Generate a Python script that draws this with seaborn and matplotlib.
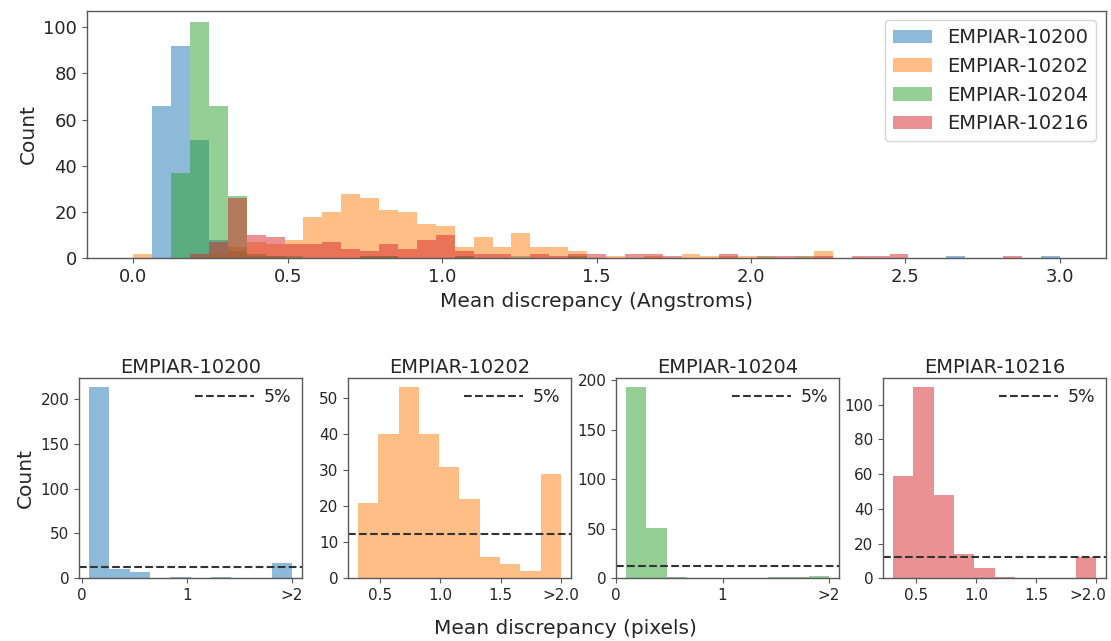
import matplotlib
matplotlib.use("Agg")
import matplotlib.pyplot as plt
import matplotlib.patches as mpatches
import matplotlib.transforms as mtransforms
from matplotlib.ticker import MultipleLocator
import numpy as np
import pandas as pd
import seaborn as sns

# Datasets and colours
NAMES = ["EMPIAR-10200", "EMPIAR-10202", "EMPIAR-10204", "EMPIAR-10216"]
colors = ["tab:blue", "tab:orange", "tab:green", "tab:red"]

# Top histogram: 49 shared bins from 0 to 3.0 Angstroms, counts read per bin
TOP_RANGE = (0.0, 3.0)
top_10200 = [0, 66, 92, 51, 8, 3, 1, 1, 0, 0, 0, 0, 1, 1, 0, 0, 0, 1, 0, 0,
             1, 0, 0, 0, 0, 0, 0, 0, 0, 0, 0, 0, 0, 1, 0, 1, 0, 0, 0, 0,
             0, 0, 0, 1, 0, 0, 0, 0, 1]
top_10202 = [2, 0, 0, 0, 2, 5, 7, 6, 8, 18, 20, 28, 26, 21, 20, 15, 14, 5, 9, 5,
             11, 5, 5, 3, 0, 1, 0, 1, 0, 2, 1, 1, 1, 1, 0, 1, 3, 0, 0, 0,
             0, 0, 0, 0, 0, 0, 0, 0, 0]
top_10204 = [0, 0, 37, 102, 66, 27, 2, 1, 1, 0, 0, 0, 1, 1, 0, 0, 0, 1, 0, 0,
             0, 0, 0, 1, 0, 0, 0, 0, 0, 0, 0, 0, 0, 0, 0, 0, 0, 0, 0, 0,
             0, 0, 0, 0, 0, 0, 0, 0, 0]
top_10216 = [0, 0, 0, 2, 7, 26, 10, 9, 6, 6, 7, 4, 3, 6, 4, 8, 10, 3, 2, 2,
             0, 2, 1, 2, 2, 0, 2, 2, 1, 0, 0, 2, 0, 0, 1, 0, 1, 0, 1, 1,
             2, 0, 0, 0, 0, 0, 1, 0, 0]
top_counts = [top_10200, top_10202, top_10204, top_10216]

# Bottom histograms (pixels): 10 bins from the smallest value up to 2, last bin holds >2
bin_lo = [0.072, 0.32, 0.094, 0.305]
bin_hi = 2.0
pix_10200 = [213, 10, 7, 0, 2, 0, 1, 0, 0, 17]
pix_10202 = [21, 40, 53, 40, 31, 22, 6, 4, 2, 29]
pix_10204 = [193, 51, 1, 0, 0, 0, 0, 1, 1, 2]
pix_10216 = [59, 110, 48, 14, 6, 1, 0, 0, 0, 12]
pix_counts = [pix_10200, pix_10202, pix_10204, pix_10216]
xticks_bottom = [[0, 1, 2], [0.5, 1.0, 1.5, 2.0], [0, 1, 2], [0.5, 1.0, 1.5, 2.0]]
xlabels_bottom = [["0", "1", ">2"], ["0.5", "1.0", "1.5", ">2.0"],
                  ["0", "1", ">2"], ["0.5", "1.0", "1.5", ">2.0"]]
ystep_bottom = [50, 10, 50, 20]

sns.set_style("ticks")
plt.rcParams["font.family"] = ["DejaVu Sans"]

W, H = 1111, 641
fig = plt.figure(figsize=(W / 100, H / 100), dpi=100)


def px_axes(left, top, right, bottom):
    return fig.add_axes([left / W, 1 - bottom / H, (right - left) / W, (bottom - top) / H])


def style_spines(ax):
    for s in ax.spines.values():
        s.set_color("0.35")
        s.set_linewidth(1.0)
    ax.tick_params(color="0.35", length=3.5)


def hist_from_counts(ax, edges, counts, color):
    mids = (edges[:-1] + edges[1:]) / 2
    df = pd.DataFrame({"x": mids, "n": np.asarray(counts, dtype=float)})
    sns.histplot(data=df, x="x", weights="n", bins=list(edges), color=color,
                 alpha=0.5, linewidth=0, ax=ax)


# ---- top panel
ax = px_axes(87, 10.7, 1106, 258.3)
edges = np.linspace(TOP_RANGE[0], TOP_RANGE[1], len(top_10200) + 1)
handles = []
for name, c, counts in zip(NAMES, colors, top_counts):
    hist_from_counts(ax, edges, counts, c)
    handles.append(mpatches.Patch(color=c, alpha=0.5, label=name, linewidth=0))
ax.set_xlabel("Mean discrepancy (Angstroms)", size=14.5)
ax.set_ylabel("Count", size=14.5)
ax.tick_params(labelsize=13)
ax.legend(handles=handles, loc="upper right", fontsize=14)
style_spines(ax)

# ---- bottom panels
lefts = [79, 348, 616, 883]
for i in range(4):
    ax = px_axes(lefts[i], 377.7, lefts[i] + 223, 578.3)
    pe = np.linspace(bin_lo[i], bin_hi, len(pix_counts[i]) + 1)
    hist_from_counts(ax, pe, pix_counts[i], colors[i])
    ax.axhline(0.05 * sum(pix_counts[i]), ls="--", color="0.2", lw=1.5, label="5%")
    ax.legend(loc="upper right", frameon=False, fontsize=12.5, handlelength=3.4,
              handletextpad=0.6, borderaxespad=0.2, borderpad=0.4)
    ax.set_xticks(xticks_bottom[i])
    ax.set_xticklabels(xlabels_bottom[i])
    ax.yaxis.set_major_locator(MultipleLocator(ystep_bottom[i]))
    ax.set_title(NAMES[i], size=14, pad=3.5)
    ax.set_xlabel("")
    ax.set_ylabel("Count" if i == 0 else "", size=14.5)
    ax.tick_params(labelsize=11)
    style_spines(ax)
    if i == 3:
        # keep the last label inside the figure edge
        last = ax.get_xticklabels()[-1]
        last.set_transform(last.get_transform() +
                           mtransforms.ScaledTranslation(-6 / 72, 0, fig.dpi_scale_trans))

fig.text(565 / W, 1 - 628 / H, "Mean discrepancy (pixels)", ha="center", va="center",
         size=14.5)

plt.savefig("out.png", dpi=100)
